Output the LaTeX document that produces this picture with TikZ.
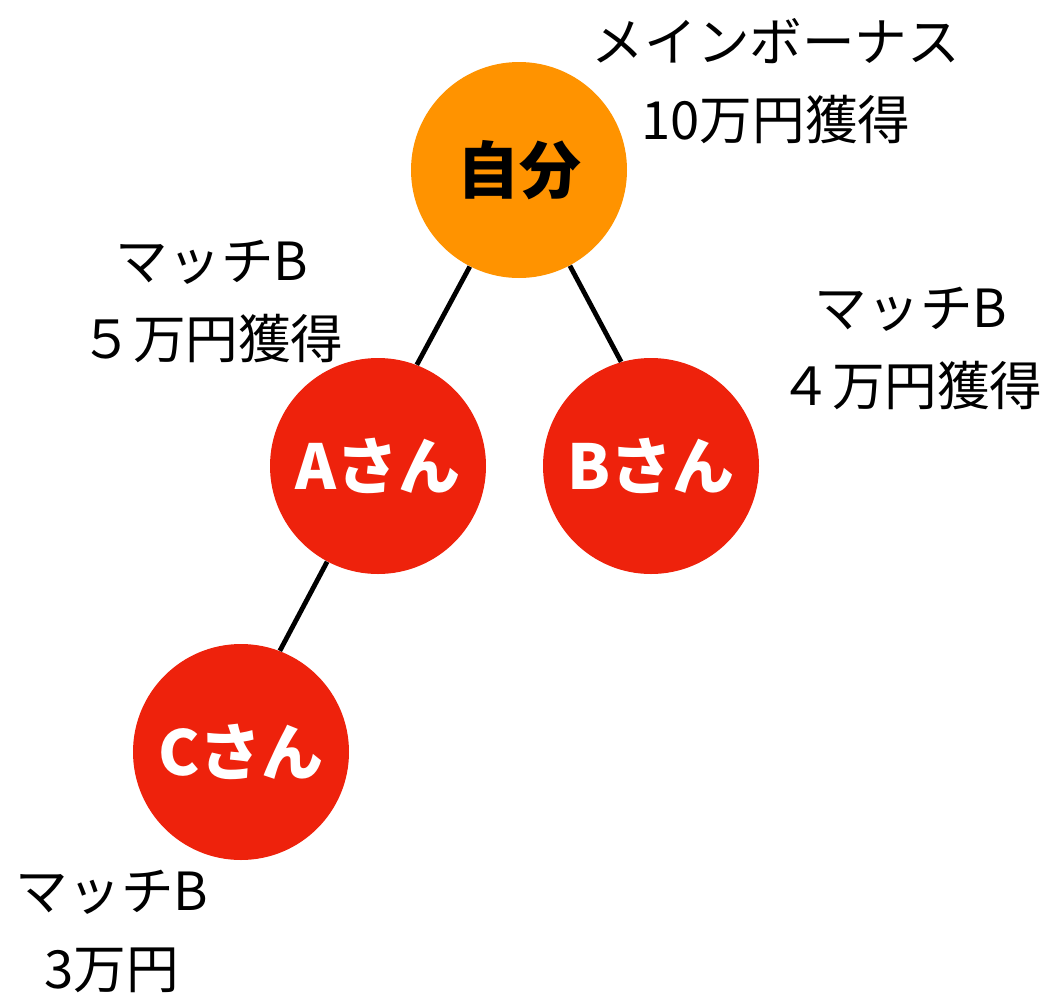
\documentclass[tikz,border=0pt]{standalone}
\usepackage{fontspec}
\newfontfamily\jp{Noto Sans CJK JP}
\definecolor{meorange}{HTML}{FF9300}
\definecolor{memred}{HTML}{EE220C}
\begin{document}
\begin{tikzpicture}[x=0.5pt,y=-0.5pt,
    me/.style={circle,fill=meorange,minimum size=108pt,inner sep=0pt,font=\jp\bfseries\fontsize{31}{34}\selectfont},
    member/.style={circle,fill=memred,text=white,minimum size=108pt,inner sep=0pt,font=\jp\bfseries\fontsize{31}{34}\selectfont},
    bonus/.style={align=center,inner sep=0pt,font=\jp\fontsize{26.3}{39}\selectfont},
    link/.style={line width=2.4pt}]
  \useasboundingbox (0,0) rectangle (1045,996);
  \node[me] (jibun) at (519,170) {自分};
  \node[member] (a) at (378,466) {Aさん};
  \node[member] (b) at (651,466) {Bさん};
  \node[member] (c) at (241,752) {Cさん};
  %
  \draw[link] (jibun.243) -- (a.69);
  \draw[link] (jibun.298) -- (b.106);
  \draw[link] (a.242) -- (c.69);
  %
  \node[bonus] (mainbonus) at (776,81) {メインボーナス\\10万円獲得};
  \node[bonus] (abonus) at (212,301) {マッチB\\５万円獲得};
  \node[bonus] (bbonus) at (911,348) {マッチB\\４万円獲得};
  \node[bonus] (cbonus) at (112,931) {マッチB\\3万円};
\end{tikzpicture}
\end{document}
